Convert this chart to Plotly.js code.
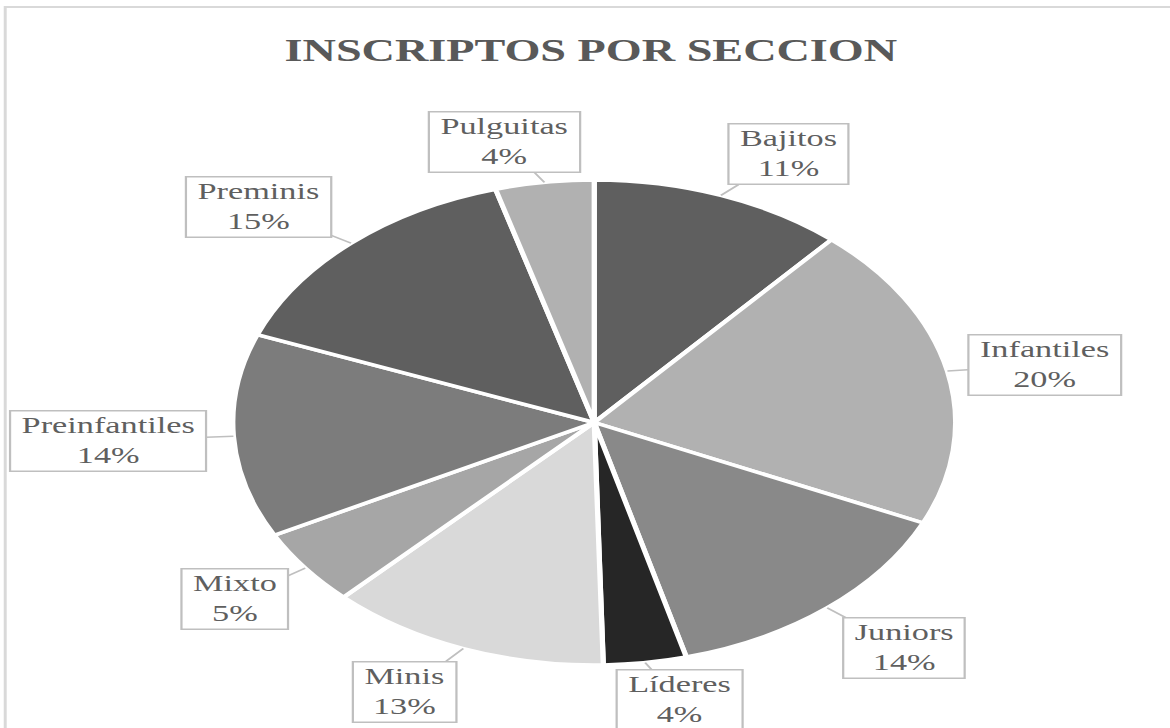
<!DOCTYPE html>
<html>
<head>
<meta charset="utf-8">
<script src="https://cdn.plot.ly/plotly-3.0.1.min.js"></script>
<style>
  html, body { margin: 0; padding: 0; background: #ffffff; overflow: hidden; }
  #chart { width: 785px; height: 728px; transform: scaleX(1.4904); transform-origin: 0 0; }
</style>
</head>
<body>
<div id="chart"></div>
<script>
// ---- data ----
const categories = ["Bajitos", "Infantiles", "Juniors", "Líderes", "Minis", "Mixto", "Preinfantiles", "Preminis", "Pulguitas"];
const values = [11.4, 20.4, 14.1, 3.7, 12.6, 5.1, 13.6, 14.7, 4.4];
const title = "INSCRIPTOS POR SECCION";

// ---- styles / layout config ----
const sliceColors = ["#5f5f5f", "#b1b1b1", "#898989", "#262626", "#d9d9d9", "#a6a6a6", "#7c7c7c", "#5f5f5f", "#b1b1b1"];
// label box offsets (px) from the slice edge point
const labelDx = [45, 65, 51, 23, -39, -47, -84, -62, -27];
const labelDy = [-41, -6, 40, 37, 43, 31, 5, -36, -40];

const W = 785, H = 728;
const R = 242.5;              // pie radius in px
const CX = 398.7, CY = 422.5; // pie centre in px (from top-left)
const LABEL_FONT = 23;

const total = values.reduce((a, b) => a + b, 0);

const canvas = document.createElement("canvas");
const ctx = canvas.getContext("2d");
ctx.font = LABEL_FONT + "px 'Liberation Serif'";

const trace = {
  type: "pie",
  labels: categories,
  values: values,
  sort: false,
  direction: "clockwise",
  rotation: 0,
  textinfo: "none",
  hoverinfo: "none",
  marker: { colors: sliceColors, line: { color: "#ffffff", width: 3.5 } },
  domain: { x: [(CX - R) / W, (CX + R) / W], y: [(H - CY - R) / H, (H - CY + R) / H] },
  showlegend: false
};

const annotations = [];
let cum = 0;
values.forEach((v, i) => {
  const mid = (cum + v / 2) / total * 2 * Math.PI;
  cum += v;
  const px = CX + R * Math.sin(mid);
  const py = CY - R * Math.cos(mid);
  const pct = Math.round(v / total * 100) + "%";
  const tw = Math.max(ctx.measureText(categories[i]).width, ctx.measureText(pct).width);
  annotations.push({
    x: px / W, y: 1 - py / H, xref: "paper", yref: "paper",
    text: categories[i] + "<br>" + pct,
    showarrow: true, arrowhead: 0, arrowwidth: 1.5, arrowcolor: "#bfbfbf", standoff: 0,
    ax: labelDx[i], ay: labelDy[i],
    width: tw + 10,
    bgcolor: "#ffffff", bordercolor: "#bfbfbf", borderwidth: 1.5, borderpad: 2,
    font: { family: "Liberation Serif, serif", size: LABEL_FONT, color: "#5f5f5f" },
    align: "center"
  });
});

const layout = {
  width: W, height: H,
  margin: { l: 0, r: 0, t: 0, b: 0 },
  paper_bgcolor: "#ffffff",
  title: {
    text: title,
    font: { family: "Liberation Serif, serif", size: 31, color: "#595959", weight: "bold" },
    x: 0.505, xref: "paper", xanchor: "center",
    y: 1 - 50 / H, yref: "container", yanchor: "middle"
  },
  shapes: [{
    type: "rect", xref: "paper", yref: "paper",
    x0: 3.5 / W, x1: 1.02, y0: -0.02, y1: 1 - 7 / H,
    line: { color: "#d9d9d9", width: 2 }, fillcolor: "rgba(0,0,0,0)"
  }],
  annotations: annotations
};

Plotly.newPlot("chart", [trace], layout, { staticPlot: true, displayModeBar: false });
</script>
</body>
</html>
